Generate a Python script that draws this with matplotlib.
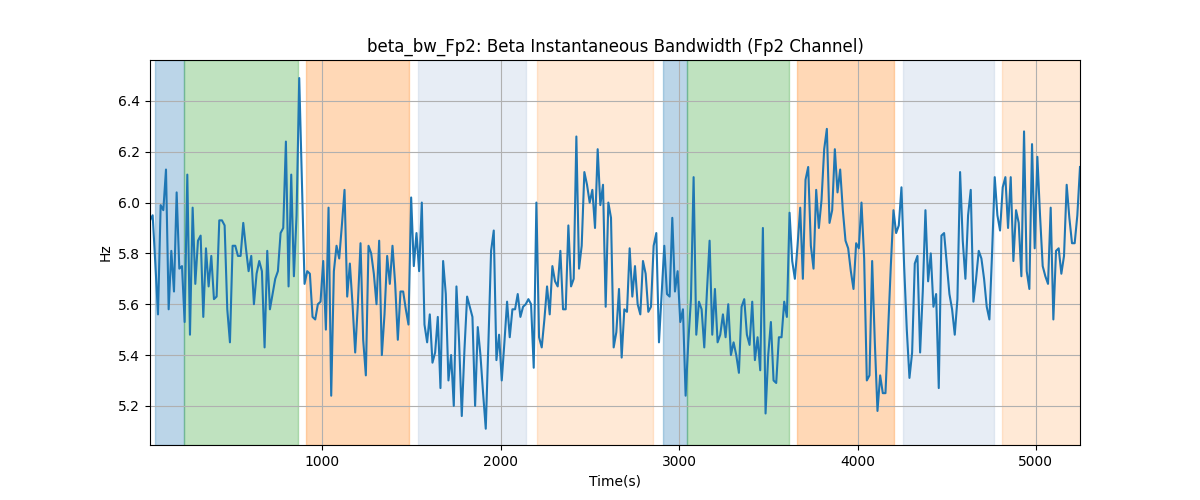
import numpy as np
import matplotlib
matplotlib.use("Agg")
import matplotlib.pyplot as plt

# beta bandwidth samples (Hz), ~15 s apart
bw = [
    5.93, 5.95, 5.76, 5.56, 5.99, 5.97, 6.13, 5.58, 5.81, 5.65,
    6.04, 5.74, 5.75, 5.53, 6.11, 5.48, 5.98, 5.68, 5.85, 5.87,
    5.55, 5.82, 5.67, 5.79, 5.62, 5.63, 5.93, 5.93, 5.91, 5.58,
    5.45, 5.83, 5.83, 5.79, 5.79, 5.92, 5.82,
    5.73, 5.79, 5.60, 5.72, 5.77, 5.73, 5.43, 5.81, 5.58, 5.64,
    5.70, 5.73, 5.88, 5.90, 6.24, 5.67, 6.11, 5.71, 5.95, 6.49,
    6.08, 5.68, 5.73, 5.72, 5.55, 5.54, 5.60, 5.61, 5.77, 5.50,
    5.98, 5.24, 5.73, 5.83, 5.78, 5.91, 6.05,
    5.63, 5.76, 5.60, 5.41, 5.60, 5.84, 5.46, 5.32, 5.83, 5.80,
    5.72, 5.60, 5.85, 5.40, 5.56, 5.79, 5.68, 5.83, 5.68, 5.46,
    5.65, 5.65, 5.58, 5.52, 6.02, 5.75, 5.88, 5.73, 6.00, 5.52,
    5.45, 5.56, 5.37, 5.41, 5.55, 5.27,
    5.77, 5.64, 5.30, 5.40, 5.20, 5.67, 5.45, 5.16, 5.42, 5.63,
    5.59, 5.55, 5.20, 5.51, 5.40, 5.25, 5.11, 5.45, 5.81, 5.89,
    5.38, 5.48, 5.30, 5.45, 5.61, 5.47, 5.58, 5.58, 5.64, 5.55,
    5.59, 5.60, 5.62, 5.60, 5.35, 6.00,
    5.47, 5.43, 5.54, 5.67, 5.56, 5.75, 5.69, 5.67, 5.81, 5.58,
    5.58, 5.91, 5.67, 5.70, 6.26, 5.74, 5.83, 6.12, 6.07, 6.00,
    6.05, 5.90, 6.21, 5.99, 6.07, 5.59, 6.00, 5.94, 5.43, 5.49,
    5.66, 5.39, 5.58, 5.57, 5.82, 5.63, 5.75,
    5.60, 5.56, 5.77, 5.72, 5.57, 5.59, 5.83, 5.88, 5.45, 5.64,
    5.83, 5.64, 5.63, 5.94, 5.65, 5.73, 5.53, 5.58, 5.24, 5.45,
    5.62, 6.10, 5.48, 5.61, 5.58, 5.43, 5.65, 5.85, 5.48, 5.66,
    5.45, 5.48, 5.56, 5.47, 5.60, 5.40,
    5.45, 5.40, 5.33, 5.59, 5.62, 5.48, 5.44, 5.61, 5.38, 5.47,
    5.34, 5.90, 5.17, 5.40, 5.53, 5.30, 5.29, 5.47, 5.47, 5.61,
    5.55, 5.96, 5.77, 5.70, 5.83, 5.98, 5.70, 6.09, 6.14, 5.83,
    5.74, 6.05, 5.90, 6.01, 6.21, 6.29, 5.92,
    5.97, 6.21, 6.04, 6.13, 5.97, 5.85, 5.82, 5.73, 5.66, 5.84,
    5.82, 6.00, 5.78, 5.30, 5.32, 5.77, 5.45, 5.18, 5.32, 5.25,
    5.25, 5.50, 5.75, 5.97, 5.88, 5.91, 6.06, 5.75, 5.50, 5.31,
    5.41, 5.76, 5.79, 5.41, 5.65, 5.97,
    5.69, 5.80, 5.59, 5.64, 5.27, 5.87, 5.88, 5.76, 5.64, 5.58,
    5.48, 5.62, 6.12, 5.85, 5.70, 5.95, 6.05, 5.61, 5.70, 5.81,
    5.78, 5.70, 5.59, 5.54, 5.80, 6.10, 5.95, 5.89,
    6.06, 6.10, 5.90, 6.10, 5.77, 5.97, 5.92, 5.71, 6.28, 5.73,
    5.66, 6.23, 5.82, 6.18, 5.95, 5.75, 5.71, 5.68, 5.98, 5.54,
    5.81, 5.82, 5.72, 5.79, 6.07, 5.94, 5.84, 5.84, 5.95, 6.14,
]
t_start, t_end = 34, 5247

# shaded phases: (start, end, colour, alpha)
span_start = [63, 224, 910, 1538, 2202, 2912, 3043, 3658, 4253, 4808]
span_end = [224, 865, 1488, 2142, 2851, 3043, 3614, 4202, 4763, 5260]
span_color = ['tab:blue', 'tab:green', 'tab:orange', 'lightsteelblue', 'tab:orange',
              'tab:blue', 'tab:green', 'tab:orange', 'lightsteelblue', 'tab:orange']
span_alpha = [0.3, 0.3, 0.3, 0.3, 0.17, 0.3, 0.3, 0.3, 0.3, 0.17]

t = np.linspace(t_start, t_end, len(bw))

fig, ax = plt.subplots(figsize=(12, 5), dpi=100)
for s, e, c, a in zip(span_start, span_end, span_color, span_alpha):
    ax.axvspan(s, e, color=c, alpha=a)
ax.plot(t, bw, color='tab:blue', linewidth=1.5)

ax.set_xlim(t[0], t[-1])
ax.set_ylim(5.046, 6.561)
ax.grid(True)
ax.set_title('beta_bw_Fp2: Beta Instantaneous Bandwidth (Fp2 Channel)')
ax.set_xlabel('Time(s)')
ax.set_ylabel('Hz')

plt.savefig('out.png', dpi=100)
